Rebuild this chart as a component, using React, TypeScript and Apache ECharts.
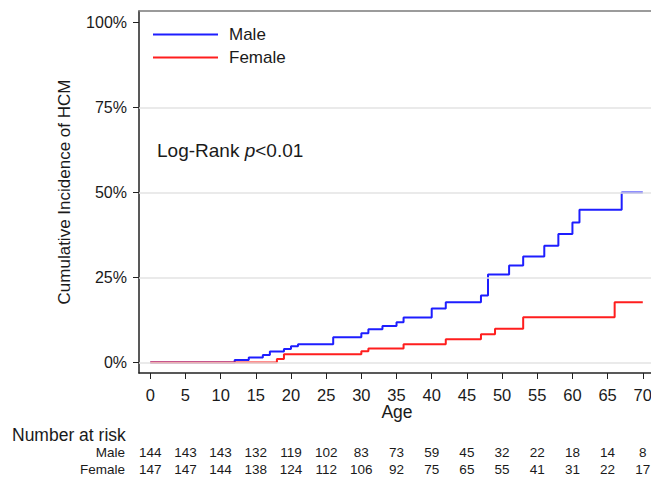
import React, { useEffect, useRef } from "react";
import * as echarts from "echarts";

// Step-function data (age in years, cumulative incidence in %)
const maleAges = [0, 12, 14, 16, 17, 19, 20, 21, 26, 30, 31, 33, 35, 36, 40, 42, 47, 48, 51, 53, 56, 58, 60, 61, 67, 70];
const maleCum = [0, 0.7, 1.5, 2.2, 3.2, 4.0, 4.8, 5.4, 7.4, 8.6, 9.8, 10.7, 11.8, 13.2, 15.9, 17.7, 19.7, 25.9, 28.5, 31.2, 34.3, 37.8, 41.2, 44.9, 50, 50];
const femaleAges = [0, 18, 19, 30, 31, 36, 42, 47, 49, 53, 66, 70];
const femaleCum = [0, 1.0, 2.4, 3.3, 4.1, 5.4, 6.8, 8.3, 9.9, 13.3, 17.7, 17.7];

// Axis ticks
const ageTicks = [0, 5, 10, 15, 20, 25, 30, 35, 40, 45, 50, 55, 60, 65, 70];
const pctTicks = [0, 25, 50, 75, 100];
const gridValues = [0, 25, 50, 75];

// Number at risk at each age tick
const maleAtRisk = [144, 143, 143, 132, 119, 102, 83, 73, 59, 45, 32, 22, 18, 14, 8];
const femaleAtRisk = [147, 147, 144, 138, 124, 112, 106, 92, 75, 65, 55, 41, 31, 22, 17];

const FONT = "'Liberation Sans', Arial, Helvetica, sans-serif";
const TXT = "#1a1a1a";
// chart is wider than the window so the plot frame runs past the right edge
const CHART_W = 700;
const X_MIN = -1.6;
const X_MAX = 78.13;
const Y_MIN = -3.09;
const Y_MAX = 103.38;

export default function App() {
  const ref = useRef<HTMLDivElement>(null);

  useEffect(() => {
    if (!ref.current) return;
    const chart = echarts.init(ref.current, undefined, { renderer: "svg" });

    const riskAxis = (name: string, values: number[], offset: number) => ({
      type: "value",
      min: X_MIN,
      max: X_MAX,
      position: "bottom",
      offset,
      name,
      nameLocation: "start",
      nameGap: 14,
      nameTextStyle: { fontSize: 13.5, color: TXT, fontFamily: FONT },
      axisLine: { show: false, onZero: false },
      axisTick: { show: false },
      splitLine: { show: false },
      axisLabel: {
        customValues: ageTicks,
        margin: 0,
        verticalAlign: "middle",
        fontSize: 13.5,
        color: TXT,
        fontFamily: FONT,
        formatter: (v: number) => {
          const i = ageTicks.indexOf(Math.round(v));
          return i >= 0 ? String(values[i]) : "";
        },
      },
    });

    chart.setOption({
      animation: false,
      backgroundColor: "#ffffff",
      textStyle: { fontFamily: FONT, color: TXT },
      grid: {
        left: 139,
        top: 11,
        right: 0,
        bottom: 105,
        show: false,
      },
      legend: {
        orient: "vertical",
        left: 153,
        top: 26,
        padding: 0,
        icon: "rect",
        itemWidth: 65,
        itemHeight: 2,
        itemGap: 6,
        data: ["Male", "Female"],
        textStyle: { fontSize: 17, color: TXT, fontFamily: FONT, padding: [0, 0, 0, 6] },
      },
      xAxis: [
        {
          type: "value",
          min: X_MIN,
          max: X_MAX,
          axisLine: { show: true, onZero: false, lineStyle: { color: "#222", width: 1.5 } },
          axisTick: { show: true, customValues: ageTicks, length: 6, lineStyle: { color: "#222", width: 1 } },
          axisLabel: { customValues: ageTicks, margin: 13, fontSize: 16.5, color: TXT, fontFamily: FONT },
          splitLine: { show: false },
        },
        riskAxis("Male", maleAtRisk, 79),
        riskAxis("Female", femaleAtRisk, 96),
        {
          type: "value",
          min: X_MIN,
          max: X_MAX,
          position: "top",
          axisLine: { show: true, onZero: false, lineStyle: { color: "#7a7a7a", width: 1.5 } },
          axisTick: { show: false },
          axisLabel: { show: false },
          splitLine: { show: false },
        },
      ],
      yAxis: {
        type: "value",
        min: Y_MIN,
        max: Y_MAX,
        name: "Cumulative Incidence of HCM",
        nameLocation: "middle",
        nameGap: 66,
        nameTextStyle: { fontSize: 17, color: TXT, fontFamily: FONT },
        axisLine: { show: true, onZero: false, lineStyle: { color: "#222", width: 1.5 } },
        axisTick: { show: true, customValues: pctTicks, length: 6, lineStyle: { color: "#222", width: 1 } },
        axisLabel: {
          customValues: pctTicks,
          margin: 12,
          fontSize: 16,
          color: TXT,
          fontFamily: FONT,
          formatter: (v: number) => `${Math.round(v)}%`,
        },
        splitLine: { show: false },
      },
      graphic: [
        {
          type: "text",
          x: 157,
          y: 150,
          style: {
            text: "{a|Log-Rank }{b|p}{a|<0.01}",
            verticalAlign: "middle",
            rich: {
              a: { fontSize: 19, fontFamily: FONT, fill: TXT, color: TXT },
              b: { fontSize: 19, fontFamily: FONT, fontStyle: "italic", fill: TXT, color: TXT },
            },
          },
        },
        {
          type: "text",
          x: 397,
          y: 412,
          style: {
            text: "Age",
            fontSize: 17.5,
            fontFamily: FONT,
            fill: TXT,
            align: "center",
            verticalAlign: "middle",
          },
        },
        {
          type: "text",
          x: 12,
          y: 435,
          style: {
            text: "Number at risk",
            fontSize: 17.5,
            fontFamily: FONT,
            fill: TXT,
            verticalAlign: "middle",
          },
        },
      ],
      series: [
        {
          name: "grid",
          type: "line",
          data: [],
          z: 1,
          silent: true,
          markLine: {
            silent: true,
            symbol: ["none", "none"],
            label: { show: false },
            lineStyle: { color: "#e3e3e3", width: 1.5, type: "solid" },
            data: gridValues.map((v) => ({ yAxis: v })),
          },
        },
        {
          name: "Male",
          type: "line",
          step: "end",
          symbol: "none",
          showSymbol: false,
          z: 3,
          color: "#1e1eff",
          lineStyle: { color: "#1e1eff", width: 2 },
          data: maleAges.map((a, i) => [a, maleCum[i]]),
        },
        {
          name: "Female",
          type: "line",
          step: "end",
          symbol: "none",
          showSymbol: false,
          z: 4,
          color: "#ff1e1e",
          lineStyle: { color: "#ff1e1e", width: 2 },
          data: femaleAges.map((a, i) => [a, femaleCum[i]]),
        },
      ],
    });

    return () => chart.dispose();
  }, []);

  return (
    <div
      ref={ref}
      style={{ position: "fixed", left: 0, top: 0, width: CHART_W, height: 478, background: "#fff" }}
    />
  );
}
